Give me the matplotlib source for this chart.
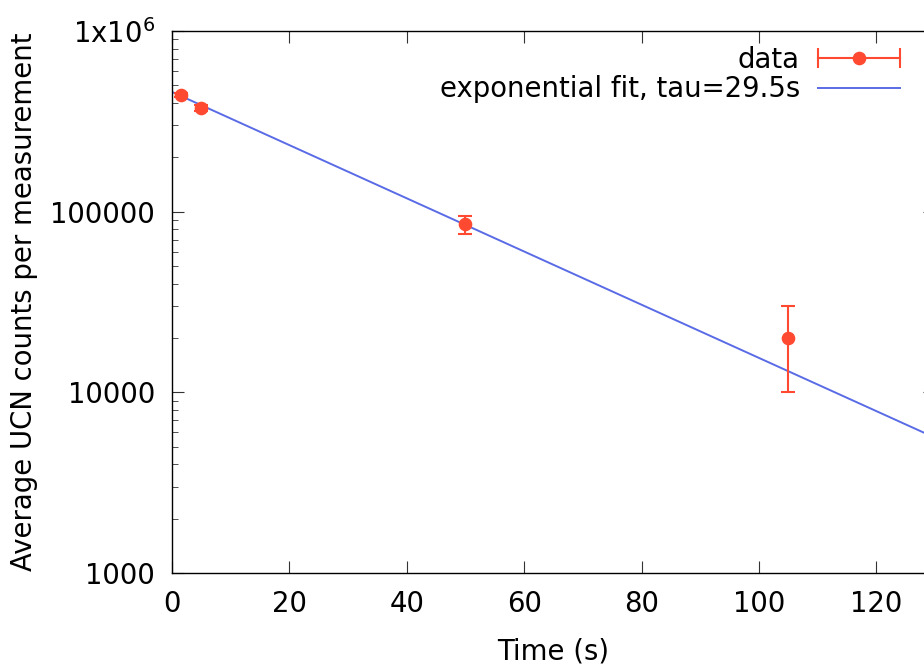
import numpy as np
import matplotlib
matplotlib.use('Agg')
import matplotlib.pyplot as plt
from matplotlib.lines import Line2D
from matplotlib.legend_handler import HandlerLine2D, HandlerTuple
from matplotlib.ticker import FixedLocator, FixedFormatter, LogLocator, NullFormatter

# measured points
time_s = [1.5, 5.0, 50.0, 105.0]
counts = [443000, 375000, 85000, 20000]
counts_err = [12000, 12000, 10000, 10000]

# exponential fit parameters
fit_amp = 460000
fit_tau = 29.5

ytick_vals = [1000, 10000, 100000, 1000000]
ytick_labels = ['1000', '10000', '100000', '1x10$^{6}$']
xtick_vals = [0, 20, 40, 60, 80, 100, 120]

RED = '#ff4a31'
BLUE = '#5a6be6'

plt.rcParams['font.family'] = 'DejaVu Sans'
plt.rcParams['font.size'] = 19.8

fig = plt.figure(figsize=(9.24, 6.65), dpi=100)
W, H = 924, 665
# axes run past the right edge of the image (as in the reference)
ax = fig.add_axes([172 / W, (H - 573) / H, (935 - 172) / W, (573 - 31) / H])

ax.errorbar(time_s, counts, yerr=counts_err, fmt='o', color=RED, ms=8.8,
            elinewidth=1.5, capsize=5.3, capthick=1.5, zorder=3)

t = np.linspace(0, 130, 300)
ax.plot(t, fit_amp * np.exp(-t / fit_tau), color=BLUE, lw=1.4, zorder=2)

ax.set_yscale('log')
ax.set_xlim(0, 130)
ax.set_ylim(1000, 1e6)
ax.xaxis.set_major_locator(FixedLocator(xtick_vals))
ax.yaxis.set_major_locator(FixedLocator(ytick_vals))
ax.yaxis.set_major_formatter(FixedFormatter(ytick_labels))
ax.yaxis.set_minor_locator(LogLocator(base=10, subs=np.arange(2, 10)))
ax.yaxis.set_minor_formatter(NullFormatter())

ax.tick_params(which='both', direction='in', top=True, right=True, color='#333333')
ax.tick_params(which='major', length=8.6, pad=12)
ax.tick_params(which='minor', length=4.3)
for s in ax.spines.values():
    s.set_linewidth(1.0)

ax.set_xlabel('Time (s)', labelpad=14)
ax.set_ylabel('Average UCN counts per measurement', labelpad=9)

# gnuplot-style legend: text on the left, sample on the right
caps = Line2D([], [], color=RED, lw=1.5, marker='|', ms=14, mew=1.5)
dot = Line2D([], [], color=RED, marker='o', ms=8.8, ls='none')
fitline = Line2D([], [], color=BLUE, lw=1.4)
ax.legend([(caps, dot), fitline], ['data', 'exponential fit, tau=29.5s'],
          handler_map={caps: HandlerLine2D(numpoints=2, marker_pad=0),
                       dot: HandlerLine2D(numpoints=1),
                       tuple: HandlerTuple(ndivide=1, pad=0)},
          loc='upper right', bbox_to_anchor=(900 / W, (H - 46) / H),
          bbox_transform=fig.transFigure, frameon=False, markerfirst=False,
          handlelength=3.0, handletextpad=0.64, borderpad=0, borderaxespad=0,
          labelspacing=0.05)

fig.savefig('out.png', dpi=100)
